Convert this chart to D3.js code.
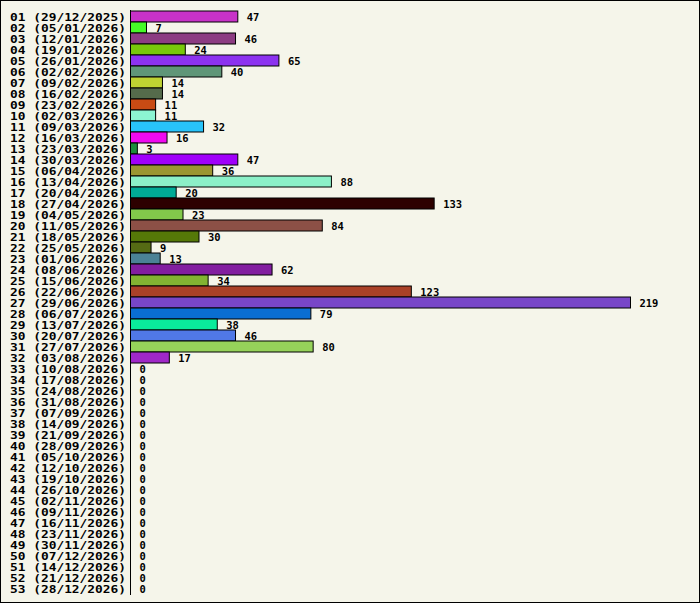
<!DOCTYPE html><html><head><script src="https://cdn.jsdelivr.net/npm/d3@7"></script>
<style>body{margin:0;background:#fff}</style></head><body><script>
const weeks=["29/12/2025","05/01/2026","12/01/2026","19/01/2026","26/01/2026","02/02/2026","09/02/2026","16/02/2026","23/02/2026","02/03/2026","09/03/2026","16/03/2026","23/03/2026","30/03/2026","06/04/2026","13/04/2026","20/04/2026","27/04/2026","04/05/2026","11/05/2026","18/05/2026","25/05/2026","01/06/2026","08/06/2026","15/06/2026","22/06/2026","29/06/2026","06/07/2026","13/07/2026","20/07/2026","27/07/2026","03/08/2026","10/08/2026","17/08/2026","24/08/2026","31/08/2026","07/09/2026","14/09/2026","21/09/2026","28/09/2026","05/10/2026","12/10/2026","19/10/2026","26/10/2026","02/11/2026","09/11/2026","16/11/2026","23/11/2026","30/11/2026","07/12/2026","14/12/2026","21/12/2026","28/12/2026"];
const values=[47,7,46,24,65,40,14,14,11,11,32,16,3,47,36,88,20,133,23,84,30,9,13,62,34,123,219,79,38,46,80,17,0,0,0,0,0,0,0,0,0,0,0,0,0,0,0,0,0,0,0,0,0];
const colors=["#c832c8","#46fa28","#8c3c82","#78c80a","#8c32f0","#5f9678","#bed232","#556b4b","#c84b14","#8cf5d2","#28c3fa","#f00af0","#1e8c3c","#a000fa","#9b9632","#8cf0c8","#00aa96","#2d0000","#82c84b","#8c5046","#557808","#556b14","#4b8296","#821ea0","#82b432","#aa4128","#7846c8","#0a6ed2","#0aeb9b","#5078e6","#96d25a","#a028c8"];
const W=700,H=603;
const svg=d3.select("body").append("svg").attr("width",W).attr("height",H);
svg.append("rect").attr("x",0.5).attr("y",0.5).attr("width",W-1).attr("height",H-1).attr("fill","#f5f5ea").attr("stroke","#000");
const labels=weeks.map((w,i)=>String(i+1).padStart(2,"0")+" ("+w+")");
const y=d3.scaleBand().domain(labels).range([11,594]).padding(0);
const x=d3.scaleLinear().domain([0,219]).range([130.5,630.5]);
const g=svg.append("g");
g.selectAll("rect.b").data(values).join("rect").attr("class","b")
 .attr("x",x(0)).attr("y",(d,i)=>y(labels[i])).attr("width",d=>x(d)-x(0)).attr("height",y.bandwidth())
 .attr("fill",(d,i)=>colors[i]||"none").attr("stroke",d=>d>0?"#000":"none").attr("stroke-width",1);
svg.append("line").attr("x1",x(0)).attr("x2",x(0)).attr("y1",10).attr("y2",595).attr("stroke","#000");
const font="'DejaVu Sans Mono',monospace";
g.selectAll("text.l").data(labels).join("text").attr("x",10).attr("y",d=>y(d)+y.bandwidth()/2+4)
 .attr("font-family",font).attr("font-weight","bold").attr("font-size",10.5)
 .attr("textLength",116).attr("lengthAdjust","spacingAndGlyphs").text(d=>d);
g.selectAll("text.v").data(values).join("text").attr("x",d=>x(d)+9).attr("y",(d,i)=>y(labels[i])+y.bandwidth()/2+4)
 .attr("font-family",font).attr("font-weight","bold").attr("font-size",10.5)
 .attr("textLength",d=>String(d).length*6.3).attr("lengthAdjust","spacingAndGlyphs").text(d=>d);
</script></body></html>
